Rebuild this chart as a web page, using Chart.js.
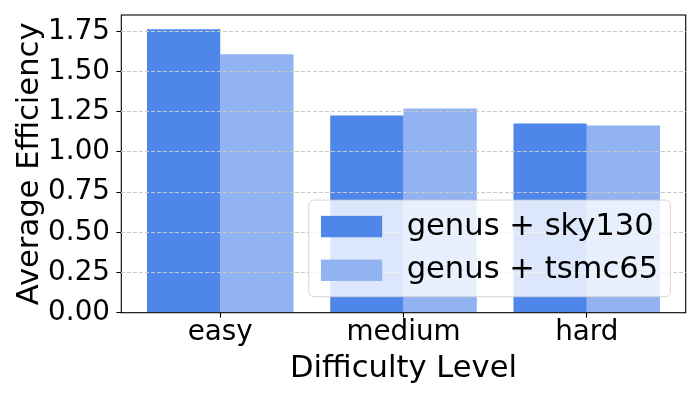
<!DOCTYPE html>
<html>
<head>
<meta charset="utf-8">
<title>Average Efficiency by Difficulty Level</title>
<script src="https://cdn.jsdelivr.net/npm/chart.js@4.4.1/dist/chart.umd.min.js"></script>
<style>
    html, body { margin: 0; padding: 0; background: #ffffff; }
    #wrap { position: relative; width: 700px; height: 400px; }
</style>
</head>
<body>
<div id="wrap"><canvas id="chart" width="700" height="400"></canvas></div>
<script>
const categories = ["easy", "medium", "hard"];
const seriesLabels = ["genus + sky130", "genus + tsmc65"];
const sky130Values = [1.764, 1.227, 1.177];
const tsmc65Values = [1.608, 1.271, 1.165];
const yTickValues = [0, 0.25, 0.5, 0.75, 1.0, 1.25, 1.5, 1.75];

const FONT = "'DejaVu Sans', sans-serif";
const COLOR_SKY = "#4f86e9";
const COLOR_TSMC = "#92b3f2";

// matplotlib-style frame around the plot area
const framePlugin = {
    id: "frame",
    afterDatasetsDraw(chart) {
        const { ctx, chartArea } = chart;
        ctx.save();
        ctx.strokeStyle = "#000000";
        ctx.lineWidth = 1.1;
        ctx.strokeRect(chartArea.left, chartArea.top,
            chartArea.right - chartArea.left, chartArea.bottom - chartArea.top);
        ctx.restore();
    }
};

// legend in the lower right corner, drawn over the bars
const legendPlugin = {
    id: "boxLegend",
    afterDraw(chart) {
        const { ctx, chartArea } = chart;
        const fontSize = 30.6;
        const pad = 0.4 * fontSize;
        const handleLen = 2 * fontSize;
        const handleGap = 0.8 * fontSize;
        const rowH = 28.4;
        const spacing = 0.5 * fontSize;
        const datasets = chart.data.datasets;

        ctx.save();
        ctx.font = fontSize + "px " + FONT;
        let textW = 0;
        datasets.forEach((ds) => {
            textW = Math.max(textW, ctx.measureText(ds.label).width);
        });
        const boxW = pad + handleLen + handleGap + textW + pad;
        const boxH = pad * 2 + rowH * datasets.length + spacing * (datasets.length - 1);
        const right = chartArea.right - 15.3;
        const bottom = chartArea.bottom - 16;
        const left = right - boxW;
        const top = bottom - boxH;

        ctx.beginPath();
        ctx.roundRect(left, top, boxW, boxH, 5);
        ctx.fillStyle = "rgba(255,255,255,0.8)";
        ctx.fill();
        ctx.strokeStyle = "rgba(204,204,204,0.8)";
        ctx.lineWidth = 1;
        ctx.stroke();

        datasets.forEach((ds, i) => {
            const cy = top + pad + rowH / 2 + i * (rowH + spacing);
            const swH = 0.7 * fontSize;
            ctx.fillStyle = ds.backgroundColor;
            ctx.fillRect(left + pad, cy - swH / 2, handleLen, swH);
            ctx.fillStyle = "#000000";
            ctx.textAlign = "left";
            ctx.textBaseline = "middle";
            ctx.fillText(ds.label, left + pad + handleLen + handleGap, cy);
        });
        ctx.restore();
    }
};

const toPoints = (values) => values.map((v, i) => ({ x: i, y: v }));

// keep tick labels from pushing the plot area around
const clearPadding = (scale) => {
    scale.paddingTop = 0;
    scale.paddingBottom = 0;
    scale.paddingLeft = 0;
    scale.paddingRight = 0;
};

new Chart(document.getElementById("chart"), {
    type: "bar",
    data: {
        datasets: [
            {
                label: seriesLabels[0],
                data: toPoints(sky130Values),
                backgroundColor: COLOR_SKY,
                borderWidth: 0,
                categoryPercentage: 0.8,
                barPercentage: 1.0
            },
            {
                label: seriesLabels[1],
                data: toPoints(tsmc65Values),
                backgroundColor: COLOR_TSMC,
                borderWidth: 0,
                categoryPercentage: 0.8,
                barPercentage: 1.0
            }
        ]
    },
    options: {
        responsive: false,
        animation: false,
        devicePixelRatio: 1,
        layout: {
            autoPadding: false,
            padding: { top: 15, right: 14.3, left: 0, bottom: 0 }
        },
        plugins: {
            legend: { display: false },
            tooltip: { enabled: false }
        },
        scales: {
            x: {
                type: "linear",
                offset: false,
                bounds: "data",
                min: -0.54,
                max: 2.54,
                afterBuildTicks: (scale) => {
                    scale.ticks = categories.map((c, i) => ({ value: i }));
                },
                afterFit: (scale) => {
                    scale.height = 87.3;
                    clearPadding(scale);
                },
                ticks: {
                    callback: (value) => categories[value] ?? "",
                    color: "#000000",
                    font: { family: FONT, size: 27.8, lineHeight: 1 },
                    padding: 1.6,
                    maxRotation: 0,
                    autoSkip: false
                },
                grid: {
                    offset: false,
                    drawOnChartArea: false,
                    drawTicks: true,
                    tickLength: 4.9,
                    tickColor: "#000000",
                    tickWidth: 1.1
                },
                border: { display: false },
                title: {
                    display: true,
                    text: "Difficulty Level",
                    color: "#000000",
                    font: { family: FONT, size: 30.6, lineHeight: 1.2 },
                    padding: { top: 0, bottom: 12.4 }
                }
            },
            y: {
                min: 0,
                max: 1.852,
                afterBuildTicks: (scale) => {
                    scale.ticks = yTickValues.map((v) => ({ value: v }));
                },
                afterFit: (scale) => {
                    scale.width = 121.3;
                    clearPadding(scale);
                },
                ticks: {
                    callback: (value) => value.toFixed(2),
                    color: "#000000",
                    font: { family: FONT, size: 27.8 },
                    padding: 6.4
                },
                grid: {
                    z: 1,
                    color: (ctx) => (ctx.tick && ctx.tick.value === 0 ? "rgba(0,0,0,0)" : "#c8c8c8"),
                    lineWidth: 1,
                    drawTicks: true,
                    tickLength: 4.9,
                    tickColor: "#000000",
                    tickWidth: 1.1
                },
                border: { display: false, dash: [4, 2] },
                title: {
                    display: true,
                    text: "Average Efficiency",
                    color: "#000000",
                    font: { family: FONT, size: 30.6, lineHeight: 1.2 },
                    padding: { top: 12, bottom: 0 }
                }
            }
        }
    },
    plugins: [framePlugin, legendPlugin]
});
</script>
</body>
</html>
